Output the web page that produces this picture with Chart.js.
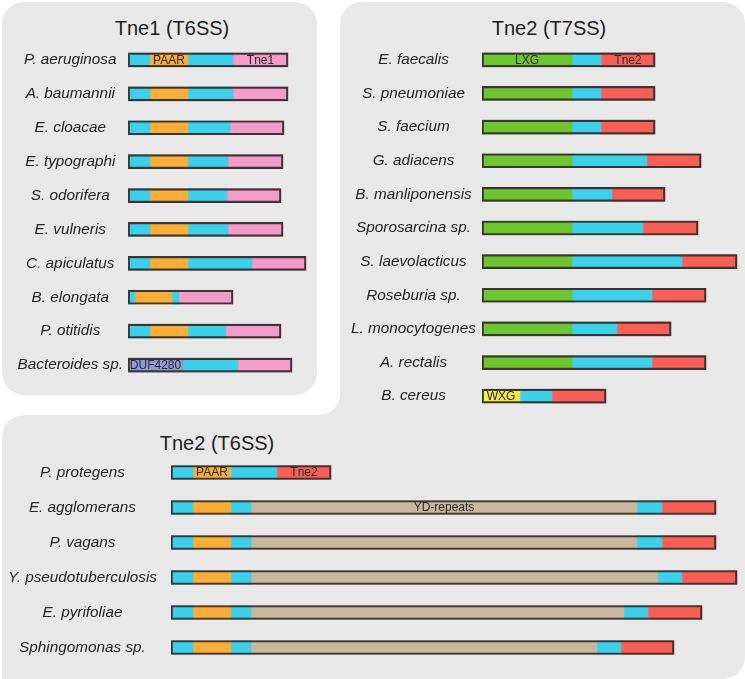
<!DOCTYPE html>
<html>
<head>
<meta charset="utf-8">
<script src="https://cdn.jsdelivr.net/npm/chart.js@4.4.1/dist/chart.umd.min.js"></script>
<style>
  body { margin: 0; background: #fff; }
  #page { position: relative; width: 745px; height: 679px; overflow: hidden; font-family: "Liberation Sans", Arial, sans-serif; }
  .panel { position: absolute; background: #e8e8e8; }
  .title { position: absolute; width: 220px; text-align: center; font-size: 20px; line-height: 24px; color: #1e1e1e; }
  .box { position: absolute; }
</style>
</head>
<body>
<div id="page">
  <div class="panel" style="left:2px;top:2px;width:315px;height:393px;border-radius:22px;"></div>
  <div class="panel" style="left:340px;top:2px;width:405px;height:430px;border-radius:22px 22px 0 0;"></div>
  <div class="panel" style="left:2px;top:415px;width:743px;height:264px;border-radius:22px 0 22px 0;"></div>
  <div class="panel" style="left:320px;top:395px;width:20px;height:20px;background:radial-gradient(circle at 0 0, rgba(232,232,232,0) 19.5px, #e8e8e8 20px);"></div>

  <div class="title" style="left:62px;top:16px;">Tne1 (T6SS)</div>
  <div class="title" style="left:439px;top:16px;">Tne2 (T7SS)</div>
  <div class="title" style="left:107px;top:431px;">Tne2 (T6SS)</div>

  <div class="box" style="left:0px;top:43px;"><canvas id="chartTne1" width="318" height="339"></canvas></div>
  <div class="box" style="left:340px;top:43px;"><canvas id="chartT7" width="405" height="370"></canvas></div>
  <div class="box" style="left:0px;top:455px;"><canvas id="chartT6" width="745" height="210"></canvas></div>
</div>

<script>
// domain colours
var domainColors = {
  linker: '#3dd0ea',
  PAAR: '#f8ae38',
  Tne1: '#f39bc9',
  Tne2: '#fa5f55',
  LXG: '#6dc52f',
  WXG: '#f4ec48',
  DUF4280: '#8f9bd8',
  YD: '#c7b79c'
};

// Tne1 (T6SS)
var tne1Species = ['P. aeruginosa', 'A. baumannii', 'E. cloacae', 'E. typographi', 'S. odorifera',
  'E. vulneris', 'C. apiculatus', 'B. elongata', 'P. otitidis', 'Bacteroides sp.'];
var tne1Domains = [
  ['linker', 'PAAR', 'linker', 'Tne1'],
  ['linker', 'PAAR', 'linker', 'Tne1'],
  ['linker', 'PAAR', 'linker', 'Tne1'],
  ['linker', 'PAAR', 'linker', 'Tne1'],
  ['linker', 'PAAR', 'linker', 'Tne1'],
  ['linker', 'PAAR', 'linker', 'Tne1'],
  ['linker', 'PAAR', 'linker', 'Tne1'],
  ['linker', 'PAAR', 'linker', 'Tne1'],
  ['linker', 'PAAR', 'linker', 'Tne1'],
  ['DUF4280', 'linker', 'Tne1']
];
// domain end positions (start of each protein = 0)
var tne1Ends = [
  [22, 60, 105, 160],
  [22, 60, 105, 160],
  [22, 60, 102, 156],
  [22, 60, 100, 155],
  [22, 60, 99, 153],
  [22, 60, 100, 155],
  [22, 60, 124, 178],
  [7, 44, 51, 105],
  [22, 60, 98, 153],
  [55, 110, 164]
];
var tne1Tags = [[0, 1, 'PAAR'], [0, 3, 'Tne1'], [9, 0, 'DUF4280']];

// Tne2 (T7SS)
var t7Species = ['E. faecalis', 'S. pneumoniae', 'S. faecium', 'G. adiacens', 'B. manliponensis',
  'Sporosarcina sp.', 'S. laevolacticus', 'Roseburia sp.', 'L. monocytogenes', 'A. rectalis', 'B. cereus'];
var t7Domains = [
  ['LXG', 'linker', 'Tne2'],
  ['LXG', 'linker', 'Tne2'],
  ['LXG', 'linker', 'Tne2'],
  ['LXG', 'linker', 'Tne2'],
  ['LXG', 'linker', 'Tne2'],
  ['LXG', 'linker', 'Tne2'],
  ['LXG', 'linker', 'Tne2'],
  ['LXG', 'linker', 'Tne2'],
  ['LXG', 'linker', 'Tne2'],
  ['LXG', 'linker', 'Tne2'],
  ['WXG', 'linker', 'Tne2']
];
var t7Ends = [
  [90, 119, 173],
  [90, 119, 173],
  [90, 119, 173],
  [90, 165, 219],
  [90, 130, 183],
  [90, 161, 216],
  [90, 200, 255],
  [90, 170, 224],
  [90, 135, 189],
  [90, 170, 224],
  [38, 70, 124]
];
var t7Tags = [[0, 0, 'LXG'], [0, 2, 'Tne2'], [10, 0, 'WXG']];

// Tne2 (T6SS)
var t6Species = ['P. protegens', 'E. agglomerans', 'P. vagans', 'Y. pseudotuberculosis', 'E. pyrifoliae', 'Sphingomonas sp.'];
var t6Domains = [
  ['linker', 'PAAR', 'linker', 'Tne2'],
  ['linker', 'PAAR', 'linker', 'YD', 'linker', 'Tne2'],
  ['linker', 'PAAR', 'linker', 'YD', 'linker', 'Tne2'],
  ['linker', 'PAAR', 'linker', 'YD', 'linker', 'Tne2'],
  ['linker', 'PAAR', 'linker', 'YD', 'linker', 'Tne2'],
  ['linker', 'PAAR', 'linker', 'YD', 'linker', 'Tne2']
];
var t6Ends = [
  [22, 60, 106, 160],
  [22, 60, 80, 466, 491, 545],
  [22, 60, 80, 466, 491, 545],
  [22, 60, 80, 487, 511, 566],
  [22, 60, 80, 453, 477, 531],
  [22, 60, 80, 426, 450, 503]
];
var t6Tags = [[0, 1, 'PAAR'], [0, 3, 'Tne2'], [1, 3, 'YD-repeats']];

// writes the domain names inside the bars
var tagPlugin = {
  id: 'tags',
  afterDatasetsDraw: function (chart, args, opts) {
    var ctx = chart.ctx;
    ctx.save();
    ctx.font = '12px "Liberation Sans", Arial, sans-serif';
    ctx.fillStyle = '#2b2b2b';
    ctx.textAlign = 'center';
    ctx.textBaseline = 'middle';
    opts.tags.forEach(function (t) {
      var el = chart.getDatasetMeta(t[1]).data[t[0]];
      ctx.fillText(t[2], (el.x + el.base) / 2, el.y + 0.5);
    });
    ctx.restore();
  }
};

function makeChart(id, species, domains, ends, tags, axisWidth, tickPad, xMax) {
  var nSeg = 0;
  ends.forEach(function (e) { nSeg = Math.max(nSeg, e.length); });
  var datasets = [];
  for (var k = 0; k < nSeg; k++) {
    datasets.push({
      label: 'segment ' + (k + 1),
      data: ends.map(function (e) { return k < e.length ? [k === 0 ? 0 : e[k - 1], e[k]] : null; }),
      backgroundColor: domains.map(function (d) { return domainColors[d[k]] || 'transparent'; }),
      borderWidth: 0,
      grouped: false,
      order: 1,
      barThickness: 14
    });
  }
  // outline of the whole protein
  datasets.push({
    label: 'protein',
    data: ends.map(function (e) { return [0, e[e.length - 1]]; }),
    backgroundColor: 'rgba(0,0,0,0)',
    borderColor: '#3c3434',
    borderWidth: 1.5,
    borderSkipped: false,
    grouped: false,
    order: 0,
    barThickness: 14
  });

  return new Chart(document.getElementById(id).getContext('2d'), {
    type: 'bar',
    data: { labels: species, datasets: datasets },
    options: {
      indexAxis: 'y',
      responsive: false,
      animation: false,
      layout: { padding: 0 },
      plugins: {
        legend: { display: false },
        tooltip: { enabled: false },
        tags: { tags: tags }
      },
      scales: {
        x: { display: false, min: 0, max: xMax },
        y: {
          grid: { display: false, drawTicks: false },
          border: { display: false },
          ticks: {
            crossAlign: 'center',
            padding: tickPad,
            color: '#222',
            font: { family: '"Liberation Sans", Arial, sans-serif', style: 'italic', size: 15.3 }
          },
          afterFit: function (s) {
            s.width = axisWidth;
            s.paddingTop = 0;
            s.paddingBottom = 0;
          }
        }
      }
    },
    plugins: [tagPlugin]
  });
}

var chart1 = makeChart('chartTne1', tne1Species, tne1Domains, tne1Ends, tne1Tags, 128, 5, 190);
var chart2 = makeChart('chartT7', t7Species, t7Domains, t7Ends, t7Tags, 142, 6, 263);
var chart3 = makeChart('chartT6', t6Species, t6Domains, t6Ends, t6Tags, 171, 14, 574);
</script>
</body>
</html>
